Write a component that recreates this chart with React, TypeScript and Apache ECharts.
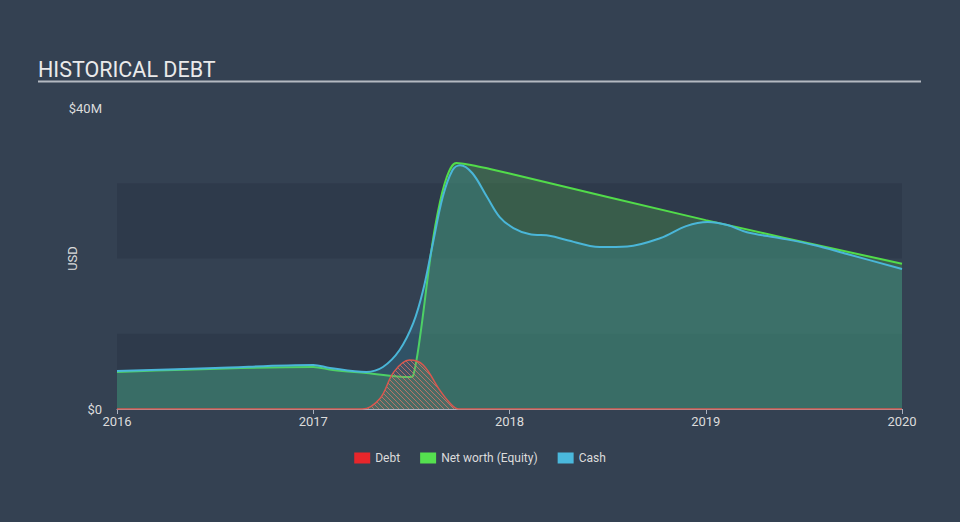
import React, { useEffect, useRef } from "react";
import * as echarts from "echarts";

// Decimal years and values in millions of USD
const cashYears = [2016.0, 2016.5, 2017.0, 2017.085, 2017.27, 2017.355, 2017.44, 2017.51, 2017.56, 2017.61, 2017.66, 2017.71, 2017.748, 2017.81, 2017.885, 2017.95, 2018.02, 2018.1, 2018.21, 2018.29, 2018.46, 2018.6, 2018.77, 2018.9, 2019.01, 2019.11, 2019.21, 2019.38, 2019.55, 2019.72, 2020.0];
const cashValues = [5.05, 5.45, 5.85, 5.45, 4.92, 5.58, 7.84, 11.43, 15.8, 22.06, 28.2, 31.76, 32.4, 31.36, 28.2, 25.5, 24.05, 23.26, 23.0, 22.46, 21.53, 21.6, 22.72, 24.3, 24.85, 24.45, 23.5, 22.7, 21.8, 20.6, 18.6];

const equityYears = [2016.0, 2017.0, 2017.1, 2017.27, 2017.49, 2017.51, 2017.544, 2017.595, 2017.63, 2017.68, 2017.73, 2017.81, 2017.9, 2018.0, 2019.0, 2020.0];
const equityValues = [4.92, 5.58, 5.18, 4.78, 4.25, 4.5, 9.57, 19.8, 25.5, 30.8, 32.7, 32.4, 31.9, 31.3, 25.1, 19.3];

const debtYears = [2016.0, 2017.0, 2017.25, 2017.34, 2017.41, 2017.49, 2017.56, 2017.645, 2017.7, 2017.74, 2018.0, 2020.0];
const debtValues = [0, 0, 0, 1.4, 4.9, 6.5, 5.85, 2.5, 0.7, 0, 0, 0];

const xTicks = [2016, 2017, 2018, 2019, 2020];
const yLabels: Record<number, string> = { 0: "$0", 40: "$40M" };

const zip = (xs: number[], ys: number[]) => xs.map((x, i) => [x, ys[i]]);

function hatchPattern(): string {
  const c = document.createElement("canvas");
  const s = 5;
  c.width = s;
  c.height = s;
  const ctx = c.getContext("2d")!;
  ctx.fillStyle = "rgba(200,90,80,0.12)";
  ctx.fillRect(0, 0, s, s);
  ctx.strokeStyle = "rgba(225,120,105,0.7)";
  ctx.lineWidth = 1;
  ctx.beginPath();
  ctx.moveTo(-1, -1);
  ctx.lineTo(s + 1, s + 1);
  ctx.moveTo(-1, s - 1);
  ctx.lineTo(1, s + 1);
  ctx.moveTo(s - 1, -1);
  ctx.lineTo(s + 1, 1);
  ctx.stroke();
  return c.toDataURL();
}

export default function App() {
  const ref = useRef<HTMLDivElement>(null);
  useEffect(() => {
    document.body.style.margin = "0";
    document.body.style.background = "#344152";
    const chart = echarts.init(ref.current!, null, { renderer: "svg" });
    const font = "Roboto";
    chart.setOption({
      animation: false,
      backgroundColor: "#344152",
      textStyle: { fontFamily: font },
      title: {
        text: "HISTORICAL DEBT",
        left: 33,
        top: 53,
        textStyle: { color: "#eaeaea", fontSize: 21.5, fontWeight: "normal", fontFamily: font },
      },
      graphic: [
        {
          type: "line",
          shape: { x1: 38, y1: 81.5, x2: 921, y2: 81.5 },
          style: { stroke: "#b4b9c1", lineWidth: 2 },
        },
      ],
      legend: {
        bottom: 53,
        left: "center",
        itemWidth: 16,
        itemHeight: 11,
        itemGap: 20,
        icon: "rect",
        textStyle: { color: "#dcdcdc", fontSize: 12, fontFamily: font },
        data: ["Debt", "Net worth (Equity)", "Cash"],
      },
      grid: { left: 117, right: 58, top: 108, bottom: 113 },
      xAxis: {
        type: "value",
        min: 2016,
        max: 2020,
        interval: 1,
        axisLine: { show: true, lineStyle: { color: "#a9b1bf", width: 1 } },
        axisTick: { show: true, length: 5, lineStyle: { color: "#a9b1bf" } },
        axisLabel: {
          color: "#dcdcdc",
          fontSize: 13,
          margin: 6,
          formatter: (v: number) => (xTicks.includes(v) ? String(v) : ""),
        },
        splitLine: { show: false },
      },
      yAxis: {
        type: "value",
        min: 0,
        max: 40,
        interval: 10,
        name: "USD",
        nameLocation: "middle",
        nameGap: 38,
        nameMoveOverlap: false,
        nameTextStyle: { color: "#dcdcdc", fontSize: 13, fontFamily: font },
        axisLine: { show: false },
        axisTick: { show: false },
        axisLabel: {
          color: "#dcdcdc",
          fontSize: 13,
          margin: 15,
          formatter: (v: number) => yLabels[v] ?? "",
        },
        splitLine: { show: false },
        splitArea: {
          show: true,
          areaStyle: { color: ["rgba(20,30,45,0.18)", "rgba(0,0,0,0)"] },
        },
      },
      series: [
        {
          name: "Net worth (Equity)",
          type: "line",
          data: zip(equityYears, equityValues),
          smooth: 0.35,
          showSymbol: false,
          symbol: "none",
          z: 2,
          lineStyle: { color: "#52dc4a", width: 2 },
          itemStyle: { color: "#55e04f" },
          areaStyle: { color: "rgba(75,150,75,0.38)", opacity: 1 },
        },
        {
          name: "Cash",
          type: "line",
          data: zip(cashYears, cashValues),
          smooth: 0.35,
          showSymbol: false,
          symbol: "none",
          z: 3,
          lineStyle: { color: "#4ab6d8", width: 2 },
          itemStyle: { color: "#4ab8dc" },
          areaStyle: { color: "rgba(60,170,200,0.22)", opacity: 1 },
        },
        {
          name: "Debt",
          type: "line",
          data: zip(debtYears, debtValues),
          smooth: 0.35,
          showSymbol: false,
          symbol: "none",
          z: 4,
          lineStyle: { color: "#d9584f", width: 1.5 },
          itemStyle: { color: "#e8262b" },
          areaStyle: { color: { image: hatchPattern(), repeat: "repeat" } as any, opacity: 1 },
        },
      ],
    });
    return () => chart.dispose();
  }, []);
  return <div ref={ref} style={{ width: 960, height: 522 }} />;
}
